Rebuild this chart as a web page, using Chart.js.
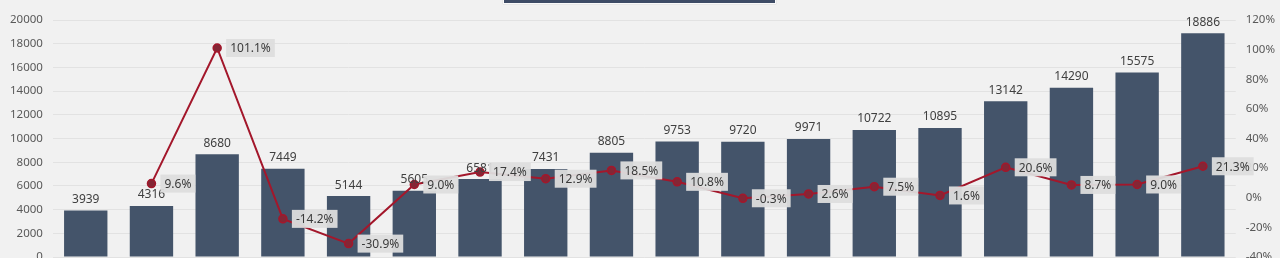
<!DOCTYPE html>
<html>
<head>
  <meta charset="UTF-8" />
  <title>Chart</title>
  <script src="https://cdn.jsdelivr.net/npm/chart.js"></script>
  <style>
    html, body { margin: 0; padding: 0; background: #f1f1f1; overflow: hidden; }
    .page { position: relative; width: 1280px; height: 258px; overflow: hidden; }
    .wrap { position: absolute; left: 0; top: 0; width: 1285px; height: 274px; }
    .titlebar { position: absolute; left: 503px; top: -2px; width: 271px; height: 4px;
      background: #3e4c66; border: 1px solid #fafafa; box-shadow: 0 0 1px #bbb; }
  </style>
</head>
<body>
  <div class="page">
    <div class="wrap"><canvas id="chart"></canvas></div>
    <div class="titlebar"></div>
  </div>

  <script>
    // data
    const categories = ['1','2','3','4','5','6','7','8','9','10','11','12','13','14','15','16','17','18'];
    const salesValues = [3939, 4316, 8680, 7449, 5144, 5605, 6581, 7431, 8805, 9753, 9720, 9971, 10722, 10895, 13142, 14290, 15575, 18886];
    const growthValues = [null, 9.6, 101.1, -14.2, -30.9, 9.0, 17.4, 12.9, 18.5, 10.8, -0.3, 2.6, 7.5, 1.6, 20.6, 8.7, 9.0, 21.3];

    const labelPlugin = {
      id: 'labels',
      afterDatasetsDraw(chart) {
        const ctx = chart.ctx;
        ctx.save();
        // bar values
        const barMeta = chart.getDatasetMeta(0);
        ctx.font = '12px "Noto Sans", sans-serif';
        ctx.fillStyle = '#404040';
        ctx.textAlign = 'center';
        ctx.textBaseline = 'bottom';
        barMeta.data.forEach((bar, i) => {
          ctx.fillText(String(salesValues[i]), bar.x, bar.y - 5);
        });
        // growth labels with grey box
        const lineMeta = chart.getDatasetMeta(1);
        ctx.font = '12px "Noto Sans", sans-serif';
        ctx.textAlign = 'left';
        ctx.textBaseline = 'middle';
        lineMeta.data.forEach((pt, i) => {
          const v = growthValues[i];
          if (v === null || v === undefined) return;
          const txt = v.toFixed(1) + '%';
          const w = ctx.measureText(txt).width + 8;
          const x = pt.x + 9, y = pt.y;
          ctx.fillStyle = 'rgba(221,221,221,0.95)';
          ctx.fillRect(x, y - 9, w, 18);
          ctx.fillStyle = '#3a3a3a';
          ctx.fillText(txt, x + 4, y + 1);
        });
        ctx.restore();
      }
    };

    new Chart(document.getElementById('chart'), {
      data: {
        labels: categories,
        datasets: [
          {
            type: 'bar',
            data: salesValues,
            backgroundColor: '#44546a',
            categoryPercentage: 1,
            barPercentage: 0.66,
            yAxisID: 'y',
            order: 2
          },
          {
            type: 'line',
            data: growthValues,
            borderColor: '#a3172b',
            borderWidth: 2,
            pointRadius: 4,
            pointBackgroundColor: '#842635',
            pointBorderColor: '#a3172b',
            pointBorderWidth: 1.5,
            tension: 0,
            yAxisID: 'y1',
            order: 1
          }
        ]
      },
      options: {
        responsive: true,
        maintainAspectRatio: false,
        animation: false,
        layout: { padding: { top: 20, bottom: 0, left: 0, right: 0 } },
        plugins: { legend: { display: false }, tooltip: { enabled: false } },
        scales: {
          x: { display: false },
          y: {
            position: 'left',
            min: 0, max: 20000,
            border: { display: false },
            grid: { color: '#e2e2e2', drawTicks: false },
            ticks: { stepSize: 2000, padding: 10, color: '#595959', font: { size: 11.5, family: '"Noto Sans", sans-serif' },
              callback: v => String(v) }
          },
          y1: {
            position: 'right',
            min: -40, max: 120,
            border: { display: false },
            grid: { display: false, drawTicks: false },
            ticks: { stepSize: 20, padding: 10, color: '#595959', font: { size: 11.5, family: '"Noto Sans", sans-serif' },
              callback: v => v + '%' }
          }
        }
      },
      plugins: [labelPlugin]
    });
  </script>
</body>
</html>
